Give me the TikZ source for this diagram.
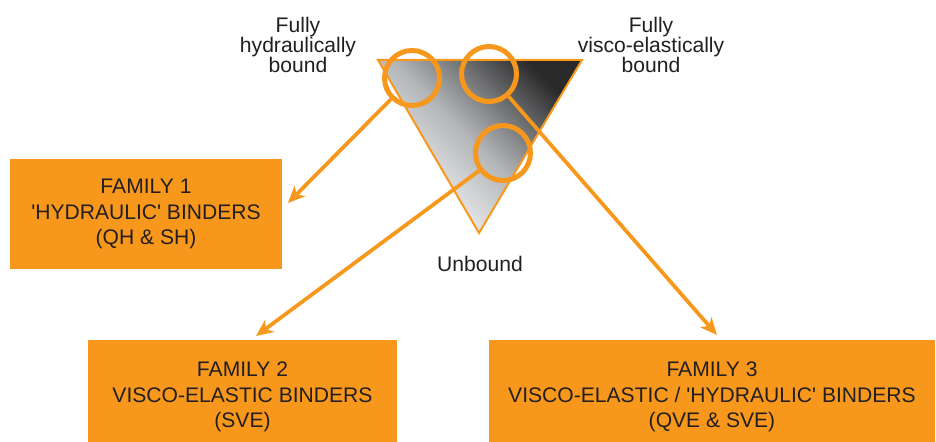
\documentclass[tikz,border=0pt]{standalone}
\usepackage{fontspec}
\setmainfont{Liberation Sans}
\usetikzlibrary{arrows.meta}
\definecolor{binderorange}{HTML}{F7981D}
\definecolor{inkgray}{HTML}{231F20}
\definecolor{darkend}{HTML}{2A2A2B}
\definecolor{midgray}{HTML}{B2B4B7}
\definecolor{lightend}{HTML}{FFFFFF}

\begin{document}
\begin{tikzpicture}[x=0.02cm,y=-0.02cm,
  familybox/.style={fill=binderorange, inner sep=0pt, align=center, text=inkgray, font=\fontsize{12}{14.4}\selectfont},
  ring/.style={circle, draw=binderorange, line width=0.1cm, minimum size=1.1cm, inner sep=0pt},
  link/.style={draw=binderorange, line width=0.075cm, -{Stealth[length=0.34cm,width=0.3cm,inset=0.1cm]}},
  lbl/.style={align=center, text=inkgray, font=\fontsize{12}{11.4}\selectfont}]
  \useasboundingbox (0,0) rectangle (936,442);
  \clip (0,0) rectangle (936,442);
  \coordinate (hyd) at (378,60);
  \coordinate (visco) at (582,60);
  \coordinate (unb) at (479,233);
  \shade[top color=darkend, bottom color=lightend, middle color=midgray, shading angle=-45] (hyd) -- (visco) -- (unb) -- cycle;
  \draw[binderorange, line width=0.04cm, line join=miter] (hyd) -- (visco) -- (unb) -- cycle;
  \node[ring] (hydring) at (412,78) {};
  \node[ring] (viscoring) at (489,74) {};
  \node[ring] (mixring) at (503,153) {};
  \node[lbl] (hydlbl) at (298,45) {Fully\\hydraulically\\bound};
  \node[lbl] (viscolbl) at (651,45) {Fully\\visco-elastically\\bound};
  \node[lbl, anchor=base] (unblbl) at (480,272) {Unbound};
  \node[familybox, minimum width=5.44cm, minimum height=2.2cm] (fam1) at (146,214) {FAMILY 1\\\textquotesingle HYDRAULIC\textquotesingle{} BINDERS\\(QH \& SH)};
  \node[familybox, minimum width=6.18cm, minimum height=2.28cm] (fam2) at (242.5,397) {FAMILY 2\\VISCO-ELASTIC BINDERS\\(SVE)};
  \node[familybox, minimum width=8.92cm, minimum height=2.28cm] (fam3) at (712,397) {FAMILY 3\\VISCO-ELASTIC / \textquotesingle HYDRAULIC\textquotesingle{} BINDERS\\(QVE \& SVE)};
  \coordinate (tip1) at (288,203);
  \coordinate (tip2) at (256,336);
  \coordinate (tip3) at (717,335);
  \draw[link] (hydring) -- (tip1);
  \draw[link] (mixring) -- (tip2);
  \draw[link] (viscoring) -- (tip3);
\end{tikzpicture}
\end{document}
